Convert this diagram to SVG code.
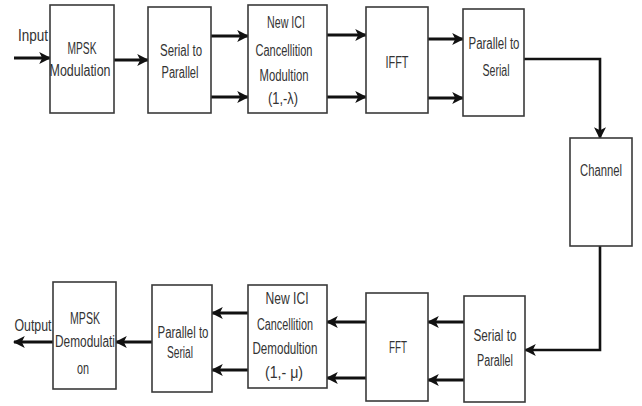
<svg xmlns="http://www.w3.org/2000/svg" width="642" height="406" viewBox="0 0 642 406">
<defs>
<style>
.box{fill:#fff;stroke:#3a3a3a;stroke-width:1.6}
.t{font-family:"Liberation Sans",Arial,sans-serif;font-size:16px;fill:#333;text-anchor:middle}
.c{fill:none;stroke:#111;stroke-width:3.2}
.c2{fill:none;stroke:#111;stroke-width:2.6}
</style>
<marker id="ah" viewBox="0 0 10 10" refX="9" refY="5" markerWidth="12" markerHeight="13" markerUnits="userSpaceOnUse" orient="auto">
<path d="M0,0 L10,5 L0,10 L2.5,5 z" fill="#111"/>
</marker>
</defs>
<rect width="642" height="406" fill="#fff"/>
<g id="connectors">
<line class="c" x1="14" y1="58" x2="50" y2="58" marker-end="url(#ah)"/>
<line class="c" x1="114" y1="60" x2="148" y2="60" marker-end="url(#ah)"/>
<line class="c" x1="211" y1="36" x2="248" y2="36" marker-end="url(#ah)"/>
<line class="c" x1="211" y1="97" x2="248" y2="97" marker-end="url(#ah)"/>
<line class="c" x1="327" y1="35" x2="366" y2="35" marker-end="url(#ah)"/>
<line class="c" x1="327" y1="97" x2="366" y2="97" marker-end="url(#ah)"/>
<line class="c" x1="428" y1="39" x2="463" y2="39" marker-end="url(#ah)"/>
<line class="c" x1="428" y1="98" x2="463" y2="98" marker-end="url(#ah)"/>
<polyline class="c2" points="524,59 600,59 600,138" marker-end="url(#ah)"/>
<polyline class="c2" points="600,246 600,350 525,350" marker-end="url(#ah)"/>
<line class="c" x1="464" y1="322" x2="428" y2="322" marker-end="url(#ah)"/>
<line class="c" x1="464" y1="380" x2="428" y2="380" marker-end="url(#ah)"/>
<line class="c" x1="366" y1="322" x2="327" y2="322" marker-end="url(#ah)"/>
<line class="c" x1="366" y1="378" x2="327" y2="378" marker-end="url(#ah)"/>
<line class="c" x1="248" y1="313" x2="212" y2="313" marker-end="url(#ah)"/>
<line class="c" x1="248" y1="370" x2="212" y2="370" marker-end="url(#ah)"/>
<line class="c" x1="152" y1="342" x2="116" y2="342" marker-end="url(#ah)"/>
<line class="c" x1="53" y1="342" x2="14" y2="342" marker-end="url(#ah)"/>
</g>
<g id="input-label"><text class="t" x="33" y="41" textLength="30" lengthAdjust="spacingAndGlyphs">Input</text></g>
<g id="output-label"><text class="t" x="33" y="331" textLength="37" lengthAdjust="spacingAndGlyphs">Output</text></g>
<g id="mpsk-mod">
<rect class="box" x="50" y="5" width="64" height="108"/>
<text class="t" x="82" y="54" textLength="29" lengthAdjust="spacingAndGlyphs">MPSK</text>
<text class="t" x="80" y="76" textLength="61" lengthAdjust="spacingAndGlyphs">Modulation</text>
</g>
<g id="s2p-top">
<rect class="box" x="148" y="7" width="63" height="106"/>
<text class="t" x="181" y="56" textLength="42" lengthAdjust="spacingAndGlyphs">Serial to</text>
<text class="t" x="180" y="78" textLength="37" lengthAdjust="spacingAndGlyphs">Parallel</text>
</g>
<g id="ici-mod">
<rect class="box" x="248" y="5" width="79" height="108"/>
<text class="t" x="286" y="28" textLength="38" lengthAdjust="spacingAndGlyphs">New ICI</text>
<text class="t" x="284" y="56" textLength="57" lengthAdjust="spacingAndGlyphs">Cancellition</text>
<text class="t" x="284" y="81" textLength="49" lengthAdjust="spacingAndGlyphs">Modultion</text>
<text class="t" x="283" y="104" textLength="30" lengthAdjust="spacingAndGlyphs">(1,-λ)</text>
</g>
<g id="ifft">
<rect class="box" x="366" y="7" width="62" height="106"/>
<text class="t" x="397" y="68" textLength="23" lengthAdjust="spacingAndGlyphs">IFFT</text>
</g>
<g id="p2s-top">
<rect class="box" x="463" y="9" width="61" height="107"/>
<text class="t" x="494" y="49" textLength="51" lengthAdjust="spacingAndGlyphs">Parallel to</text>
<text class="t" x="496" y="76" textLength="27" lengthAdjust="spacingAndGlyphs">Serial</text>
</g>
<g id="channel">
<rect class="box" x="570" y="138" width="62" height="108"/>
<text class="t" x="601" y="176" textLength="42" lengthAdjust="spacingAndGlyphs">Channel</text>
</g>
<g id="s2p-bottom">
<rect class="box" x="464" y="296" width="61" height="106"/>
<text class="t" x="495" y="341" textLength="43" lengthAdjust="spacingAndGlyphs">Serial to</text>
<text class="t" x="495" y="366" textLength="36" lengthAdjust="spacingAndGlyphs">Parallel</text>
</g>
<g id="fft">
<rect class="box" x="366" y="293" width="62" height="108"/>
<text class="t" x="398" y="353" textLength="18" lengthAdjust="spacingAndGlyphs">FFT</text>
</g>
<g id="ici-demod">
<rect class="box" x="248" y="285" width="79" height="103"/>
<text class="t" x="287" y="304" textLength="43" lengthAdjust="spacingAndGlyphs">New ICI</text>
<text class="t" x="285" y="330" textLength="56" lengthAdjust="spacingAndGlyphs">Cancellition</text>
<text class="t" x="285" y="354" textLength="65" lengthAdjust="spacingAndGlyphs">Demodultion</text>
<text class="t" x="284" y="378" textLength="38" lengthAdjust="spacingAndGlyphs">(1,- μ)</text>
</g>
<g id="p2s-bottom">
<rect class="box" x="152" y="285" width="60" height="107"/>
<text class="t" x="183" y="338" textLength="51" lengthAdjust="spacingAndGlyphs">Parallel to</text>
<text class="t" x="180" y="358" textLength="26" lengthAdjust="spacingAndGlyphs">Serial</text>
</g>
<g id="mpsk-demod">
<rect class="box" x="53" y="282" width="63" height="107"/>
<text class="t" x="85" y="324" textLength="30" lengthAdjust="spacingAndGlyphs">MPSK</text>
<text class="t" x="85" y="347" textLength="60" lengthAdjust="spacingAndGlyphs">Demodulati</text>
<text class="t" x="83" y="374" textLength="12" lengthAdjust="spacingAndGlyphs">on</text>
</g>
</svg>
